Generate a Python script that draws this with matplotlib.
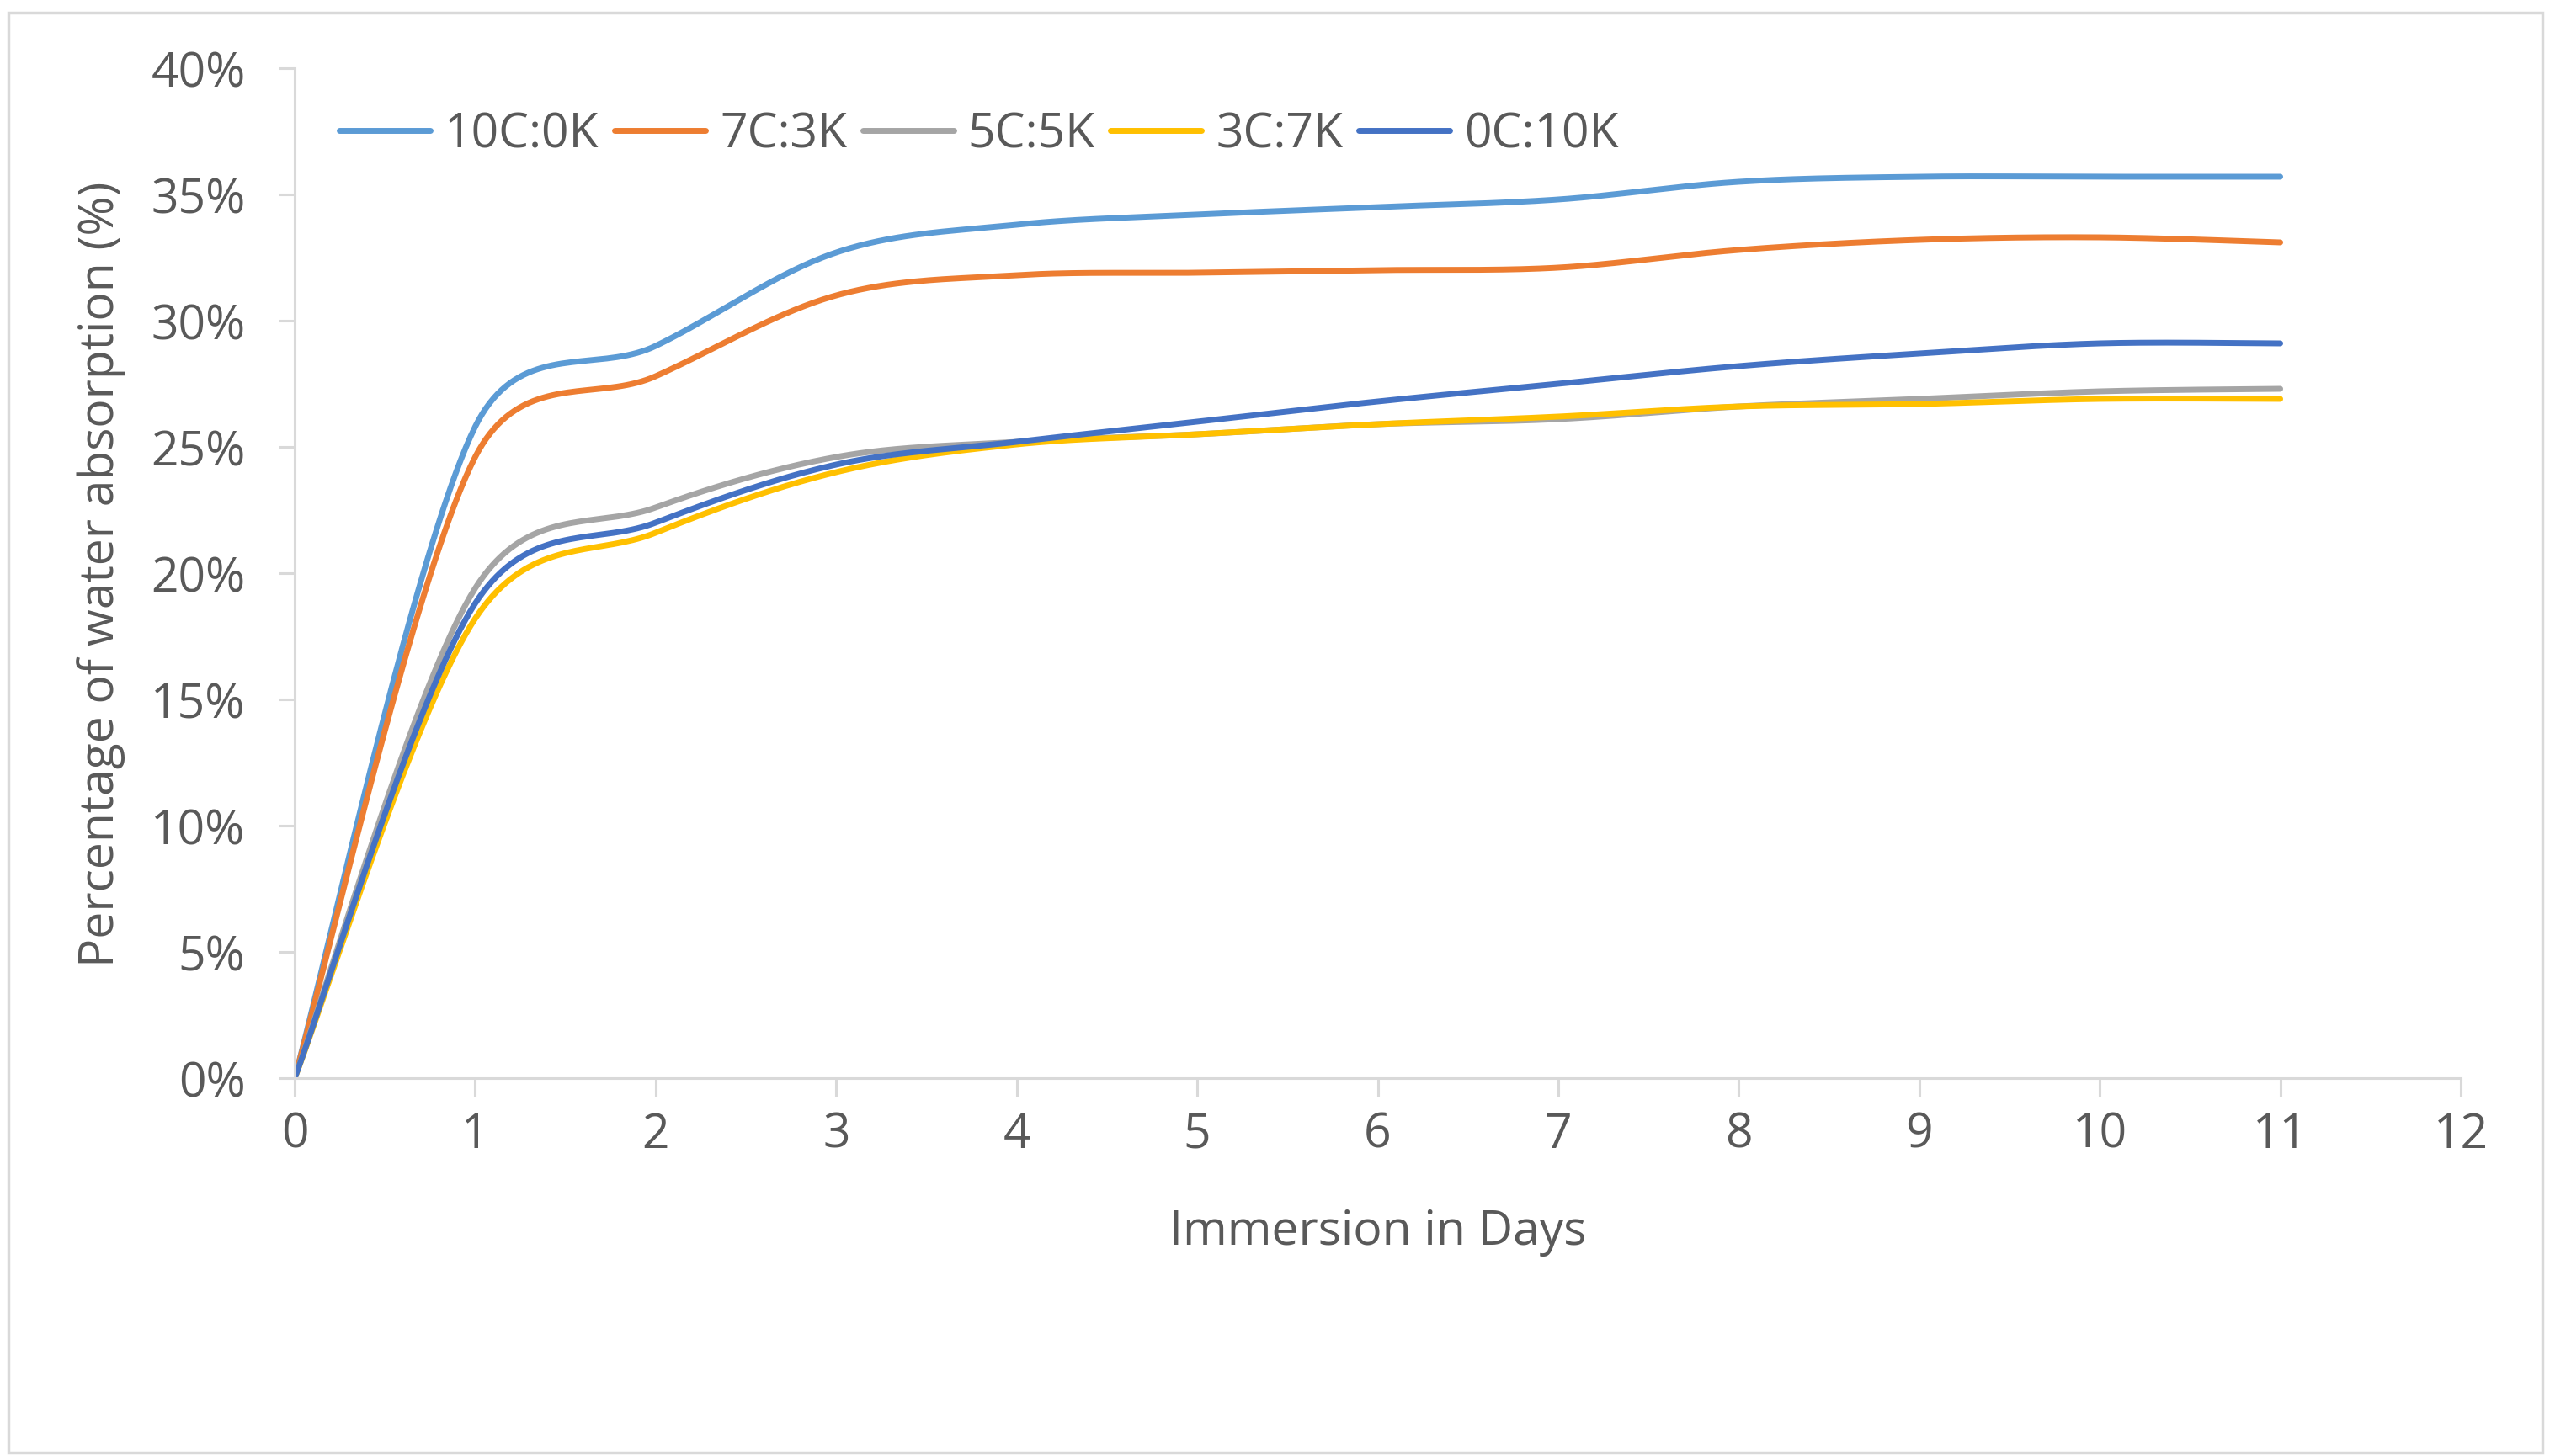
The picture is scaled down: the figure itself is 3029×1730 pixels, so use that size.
import numpy as np
import matplotlib.pyplot as plt
from matplotlib.patches import Rectangle

# データ (浸漬日数と吸水率 %)
days = [0, 1, 2, 3, 4, 5, 6, 7, 8, 9, 10, 11]
labels = ['10C:0K', '7C:3K', '5C:5K', '3C:7K', '0C:10K']
s_10c0k = [0, 25.8, 29.0, 32.7, 33.8, 34.2, 34.5, 34.8, 35.5, 35.7, 35.7, 35.7]
s_7c3k = [0, 24.6, 27.8, 31.0, 31.8, 31.9, 32.0, 32.1, 32.8, 33.2, 33.3, 33.1]
s_5c5k = [0, 19.4, 22.6, 24.6, 25.2, 25.5, 25.9, 26.1, 26.6, 26.9, 27.2, 27.3]
s_3c7k = [0, 18.2, 21.6, 24.0, 25.1, 25.5, 25.9, 26.2, 26.6, 26.7, 26.9, 26.9]
s_0c10k = [0, 18.8, 22.0, 24.3, 25.2, 26.0, 26.8, 27.5, 28.2, 28.7, 29.1, 29.1]
colors = ['#5B9BD5', '#ED7D31', '#A5A5A5', '#FFC000', '#4472C4']


def smooth(x, y, kx=214.4, ky=30.0, n=40):
    # Excel風のスムージング (ベジェ曲線, 画面上の距離で張力を調整)
    p = np.column_stack([np.asarray(x, float) * kx, np.asarray(y, float) * ky])
    p = np.vstack([p[0], p, p[-1]])
    out = []
    for i in range(1, len(p) - 2):
        p0, p1, p2, p3 = p[i - 1], p[i], p[i + 1], p[i + 2]
        d02 = np.hypot(*(p2 - p0))
        d12 = np.hypot(*(p2 - p1))
        d13 = np.hypot(*(p3 - p1))
        f1 = 1 / 6
        f2 = 1 / 6
        if d02 / 6 > d12 / 2:
            f1 = d12 / (2 * d02)
        if d13 / 6 > d12 / 2:
            f2 = d12 / (2 * d13)
        c1 = p1 + f1 * (p2 - p0)
        c2 = p2 - f2 * (p3 - p1)
        t = np.linspace(0, 1, n)[:, None]
        seg = ((1 - t) ** 3) * p1 + 3 * ((1 - t) ** 2) * t * c1 + 3 * (1 - t) * t ** 2 * c2 + t ** 3 * p2
        out.append(seg if i == 1 else seg[1:])
    seg = np.vstack(out)
    return seg[:, 0] / kx, seg[:, 1] / ky


plt.rcParams['font.family'] = ['Open Sans', 'DejaVu Sans']
txt = '#595959'
axc = '#D9D9D9'
fs = 41

fig = plt.figure(figsize=(30.29, 17.31), dpi=100)
ax = fig.add_axes([350 / 3029, 1 - 1282 / 1731, 2573 / 3029, 1200 / 1731])

series = [s_10c0k, s_7c3k, s_5c5k, s_3c7k, s_0c10k]
for vals, lab, col in zip(series, labels, colors):
    sx, sy = smooth(days, vals)
    ax.plot(sx, sy, color=col, lw=5, label=lab, solid_capstyle='round')

ax.set_xlim(0, 12)
ax.set_ylim(0, 40)
ax.set_xticks(range(0, 13))
ax.set_yticks(range(0, 41, 5))
ax.set_yticklabels([f'{v}%' for v in range(0, 41, 5)])

for s in ['top', 'right']:
    ax.spines[s].set_visible(False)
for s in ['left', 'bottom']:
    ax.spines[s].set_color(axc)
    ax.spines[s].set_linewidth(2.2)
ax.tick_params(axis='both', colors=axc, labelcolor=txt, labelsize=fs, width=2.2)
ax.tick_params(axis='y', length=14, pad=28)
ax.tick_params(axis='x', length=16, pad=12)

ax.set_xlabel('Immersion in Days', fontsize=fs, color=txt, labelpad=42)
ax.set_ylabel('Percentage of water absorption (%)', fontsize=fs, color=txt)
ax.yaxis.set_label_coords((120 - 350) / 2573, 0.5)
ax.yaxis.label.set_va('center')

ax.legend(loc='center left', bbox_to_anchor=(403 / 3029, 1 - 161 / 1731),
          bbox_transform=fig.transFigure, ncol=5, frameon=False, fontsize=fs,
          labelcolor=txt, handlelength=1.9, handletextpad=0.3, columnspacing=0.32,
          borderpad=0, borderaxespad=0)

# 外枠
fig.patches.append(Rectangle((10 / 3029, 4 / 1731), 3010 / 3029, 1711 / 1731,
                             transform=fig.transFigure, fill=False, edgecolor=axc, lw=2.5))

fig.savefig('out.png', dpi=100, facecolor='white')
